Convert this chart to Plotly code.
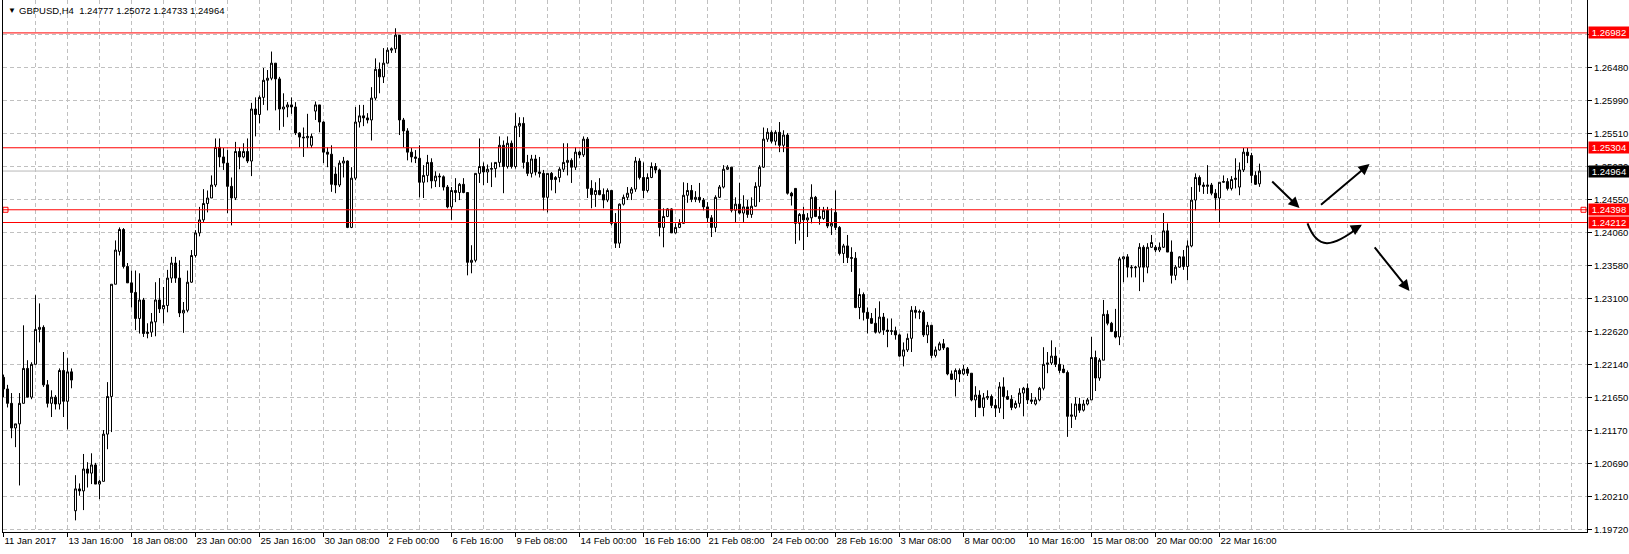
import plotly.graph_objects as go

# ---------------- data (GBPUSD H4, 11 Jan 2017 00:00 -> 24 Mar 2017 08:00) ----------------
open_ = [
    1.2195, 1.2178, 1.2157, 1.2121, 1.2127, 1.2157,   # 11 Jan
    1.2208, 1.2166, 1.2214, 1.2265, 1.2268, 1.2184,   # 12 Jan
    1.2157, 1.2166, 1.2156, 1.2205, 1.2160, 1.2203,   # 13 Jan
    1.2000, 1.2032, 1.2029, 1.2061, 1.2055, 1.2067,   # 16 Jan
    1.2039, 1.2043, 1.2112, 1.2167, 1.2331, 1.2379,   # 17 Jan
    1.2411, 1.2357, 1.2333, 1.2319, 1.2281, 1.2308,   # 18 Jan
    1.2259, 1.2261, 1.2276, 1.2308, 1.2295, 1.2300,   # 19 Jan
    1.2340, 1.2362, 1.2340, 1.2289, 1.2293, 1.2334,   # 20 Jan
    1.2373, 1.2406, 1.2425, 1.2449, 1.2457, 1.2476,   # 23 Jan
    1.2531, 1.2517, 1.2508, 1.2474, 1.2457, 1.2525,   # 24 Jan
    1.2517, 1.2525, 1.2511, 1.2587, 1.2579, 1.2604,   # 25 Jan
    1.2629, 1.2632, 1.2654, 1.2631, 1.2587, 1.2590,   # 26 Jan
    1.2593, 1.2590, 1.2552, 1.2546, 1.2545, 1.2534,   # 27 Jan
    1.2584, 1.2593, 1.2568, 1.2524, 1.2521, 1.2492,   # 30 Jan
    1.2476, 1.2508, 1.2511, 1.2414, 1.2486, 1.2568,   # 31 Jan
    1.2577, 1.2574, 1.2571, 1.2603, 1.2645, 1.2634,   # 1 Feb
    1.2654, 1.2673, 1.2675, 1.2695, 1.2571, 1.2555,   # 2 Feb
    1.2524, 1.2517, 1.2515, 1.2480, 1.2490, 1.2509,   # 3 Feb
    1.2482, 1.2489, 1.2488, 1.2473, 1.2444, 1.2468,   # 6 Feb
    1.2465, 1.2477, 1.2465, 1.2363, 1.2366, 1.2493,   # 7 Feb
    1.2503, 1.2495, 1.2499, 1.2500, 1.2509, 1.2534,   # 8 Feb
    1.2503, 1.2537, 1.2503, 1.2562, 1.2566, 1.2509,   # 9 Feb
    1.2493, 1.2514, 1.2495, 1.2493, 1.2458, 1.2493,   # 10 Feb
    1.2484, 1.2487, 1.2499, 1.2509, 1.2512, 1.2502,   # 13 Feb
    1.2524, 1.2520, 1.2543, 1.2471, 1.2462, 1.2468,   # 14 Feb
    1.2462, 1.2454, 1.2468, 1.2420, 1.2391, 1.2448,   # 15 Feb
    1.2458, 1.2464, 1.2470, 1.2511, 1.2487, 1.2468,   # 16 Feb
    1.2487, 1.2503, 1.2498, 1.2414, 1.2430, 1.2441,   # 17 Feb
    1.2406, 1.2414, 1.2420, 1.2461, 1.2468, 1.2455,   # 20 Feb
    1.2458, 1.2454, 1.2444, 1.2428, 1.2414, 1.2458,   # 21 Feb
    1.2473, 1.2499, 1.2502, 1.2439, 1.2448, 1.2435,   # 22 Feb
    1.2444, 1.2433, 1.2445, 1.2474, 1.2502, 1.2543,   # 23 Feb
    1.2553, 1.2540, 1.2553, 1.2534, 1.2549, 1.2464,   # 24 Feb
    1.2471, 1.2420, 1.2433, 1.2425, 1.2428, 1.2458,   # 27 Feb
    1.2430, 1.2427, 1.2439, 1.2416, 1.2436, 1.2414,   # 28 Feb
    1.2376, 1.2387, 1.2370, 1.2369, 1.2297, 1.2316,   # 1 Mar
    1.2290, 1.2281, 1.2274, 1.2261, 1.2283, 1.2264,   # 2 Mar
    1.2262, 1.2263, 1.2257, 1.2226, 1.2235, 1.2252,   # 3 Mar
    1.2293, 1.2290, 1.2290, 1.2257, 1.2271, 1.2227,   # 6 Mar
    1.2235, 1.2244, 1.2238, 1.2200, 1.2192, 1.2205,   # 7 Mar
    1.2200, 1.2207, 1.2201, 1.2162, 1.2169, 1.2151,   # 8 Mar
    1.2165, 1.2167, 1.2154, 1.2150, 1.2181, 1.2167,   # 9 Mar
    1.2163, 1.2151, 1.2157, 1.2172, 1.2179, 1.2162,   # 10 Mar
    1.2156, 1.2162, 1.2179, 1.2214, 1.2216, 1.2226,   # 13 Mar
    1.2214, 1.2207, 1.2202, 1.2138, 1.2138, 1.2156,   # 14 Mar
    1.2147, 1.2156, 1.2162, 1.2224, 1.2194, 1.2220,   # 15 Mar
    1.2287, 1.2274, 1.2262, 1.2254, 1.2368, 1.2371,   # 16 Mar
    1.2356, 1.2355, 1.2356, 1.2385, 1.2356, 1.2385,   # 17 Mar
    1.2385, 1.2381, 1.2385, 1.2409, 1.2378, 1.2344,   # 20 Mar
    1.2356, 1.2371, 1.2357, 1.2387, 1.2454, 1.2487,   # 21 Mar
    1.2476, 1.2474, 1.2476, 1.2464, 1.2457, 1.2480,   # 22 Mar
    1.2481, 1.2471, 1.2484, 1.2473, 1.2498, 1.2524,   # 23 Mar
    1.2519, 1.2490, 1.24777,                          # 24 Mar
]

high = [
    1.2199, 1.2184, 1.2172, 1.2127, 1.2172, 1.2271,
    1.2220, 1.2217, 1.2315, 1.2303, 1.2271, 1.2191,
    1.2176, 1.2169, 1.2208, 1.2232, 1.2223, 1.2208,
    1.2052, 1.2040, 1.2083, 1.2071, 1.2084, 1.2070,
    1.2045, 1.2118, 1.2188, 1.2331, 1.2395, 1.2414,
    1.2413, 1.2362, 1.2351, 1.2351, 1.2347, 1.2311,
    1.2274, 1.2289, 1.2334, 1.2340, 1.2327, 1.2352,
    1.2371, 1.2371, 1.2366, 1.2305, 1.2351, 1.2381,
    1.2410, 1.2444, 1.2470, 1.2468, 1.2490, 1.2544,
    1.2544, 1.2530, 1.2527, 1.2487, 1.2539, 1.2531,
    1.2537, 1.2544, 1.2596, 1.2604, 1.2607, 1.2647,
    1.2644, 1.2671, 1.2654, 1.2634, 1.2610, 1.2597,
    1.2604, 1.2597, 1.2553, 1.2560, 1.2580, 1.2551,
    1.2598, 1.2593, 1.2569, 1.2531, 1.2534, 1.2502,
    1.2512, 1.2517, 1.2512, 1.2502, 1.2590, 1.2593,
    1.2593, 1.2581, 1.2619, 1.2661, 1.2655, 1.2676,
    1.2677, 1.2677, 1.2705, 1.2695, 1.2574, 1.2559,
    1.2530, 1.2527, 1.2534, 1.2505, 1.2520, 1.2515,
    1.2496, 1.2493, 1.2490, 1.2476, 1.2473, 1.2486,
    1.2479, 1.2486, 1.2465, 1.2388, 1.2493, 1.2544,
    1.2509, 1.2506, 1.2509, 1.2509, 1.2547, 1.2541,
    1.2547, 1.2541, 1.2581, 1.2575, 1.2575, 1.2520,
    1.2520, 1.2520, 1.2517, 1.2498, 1.2493, 1.2495,
    1.2489, 1.2502, 1.2537, 1.2537, 1.2515, 1.2531,
    1.2526, 1.2547, 1.2546, 1.2483, 1.2480, 1.2486,
    1.2471, 1.2471, 1.2468, 1.2435, 1.2449, 1.2462,
    1.2473, 1.2473, 1.2517, 1.2515, 1.2509, 1.2493,
    1.2509, 1.2508, 1.2500, 1.2442, 1.2442, 1.2442,
    1.2420, 1.2426, 1.2480, 1.2479, 1.2476, 1.2467,
    1.2479, 1.2457, 1.2451, 1.2432, 1.2461, 1.2476,
    1.2505, 1.2505, 1.2502, 1.2458, 1.2479, 1.2461,
    1.2454, 1.2458, 1.2480, 1.2505, 1.2560, 1.2559,
    1.2556, 1.2556, 1.2568, 1.2556, 1.2552, 1.2466,
    1.2471, 1.2435, 1.2444, 1.2435, 1.2477, 1.2460,
    1.2444, 1.2444, 1.2444, 1.2442, 1.2468, 1.2416,
    1.2390, 1.2403, 1.2385, 1.2378, 1.2325, 1.2319,
    1.2297, 1.2289, 1.2296, 1.2306, 1.2289, 1.2281,
    1.2281, 1.2269, 1.2259, 1.2246, 1.2259, 1.2299,
    1.2299, 1.2294, 1.2293, 1.2276, 1.2271, 1.2240,
    1.2247, 1.2251, 1.2239, 1.2205, 1.2208, 1.2208,
    1.2213, 1.2210, 1.2201, 1.2182, 1.2176, 1.2172,
    1.2176, 1.2170, 1.2163, 1.2188, 1.2195, 1.2176,
    1.2169, 1.2161, 1.2179, 1.2181, 1.2186, 1.2172,
    1.2166, 1.2181, 1.2239, 1.2232, 1.2249, 1.2239,
    1.2223, 1.2213, 1.2205, 1.2157, 1.2166, 1.2165,
    1.2162, 1.2165, 1.2254, 1.2234, 1.2223, 1.2308,
    1.2293, 1.2276, 1.2295, 1.2371, 1.2372, 1.2375,
    1.2359, 1.2358, 1.2391, 1.2388, 1.2391, 1.2403,
    1.2388, 1.2392, 1.2435, 1.2420, 1.2395, 1.2359,
    1.2372, 1.2381, 1.2395, 1.2473, 1.2493, 1.2490,
    1.2480, 1.2505, 1.2479, 1.2470, 1.2480, 1.2490,
    1.2486, 1.2489, 1.2515, 1.2509, 1.2530, 1.2530,
    1.2523, 1.2496, 1.25072,
]

low = [
    1.2166, 1.2151, 1.2106, 1.2093, 1.2037, 1.2157,
    1.2166, 1.2163, 1.2214, 1.2246, 1.2181, 1.2151,
    1.2137, 1.2148, 1.2148, 1.2137, 1.2119, 1.2179,
    1.1986, 1.2022, 1.2001, 1.2034, 1.2039, 1.2039,
    1.2017, 1.2043, 1.2090, 1.2115, 1.2331, 1.2373,
    1.2354, 1.2333, 1.2297, 1.2264, 1.2259, 1.2254,
    1.2252, 1.2254, 1.2255, 1.2289, 1.2274, 1.2290,
    1.2333, 1.2333, 1.2283, 1.2260, 1.2290, 1.2333,
    1.2370, 1.2401, 1.2422, 1.2436, 1.2457, 1.2473,
    1.2502, 1.2498, 1.2435, 1.2417, 1.2454, 1.2499,
    1.2515, 1.2508, 1.2489, 1.2547, 1.2566, 1.2593,
    1.2585, 1.2629, 1.2585, 1.2556, 1.2561, 1.2575,
    1.2580, 1.2549, 1.2531, 1.2517, 1.2530, 1.2530,
    1.2571, 1.2553, 1.2508, 1.2502, 1.2466, 1.2464,
    1.2473, 1.2487, 1.2413, 1.2413, 1.2483, 1.2560,
    1.2562, 1.2566, 1.2541, 1.2600, 1.2610, 1.2625,
    1.2654, 1.2669, 1.2669, 1.2549, 1.2531, 1.2512,
    1.2509, 1.2508, 1.2458, 1.2457, 1.2480, 1.2471,
    1.2473, 1.2473, 1.2468, 1.2442, 1.2425, 1.2451,
    1.2454, 1.2464, 1.2344, 1.2347, 1.2363, 1.2479,
    1.2476, 1.2479, 1.2473, 1.2487, 1.2502, 1.2464,
    1.2500, 1.2500, 1.2500, 1.2546, 1.2500, 1.2489,
    1.2487, 1.2490, 1.2487, 1.2439, 1.2436, 1.2468,
    1.2464, 1.2480, 1.2495, 1.2490, 1.2479, 1.2498,
    1.2515, 1.2517, 1.2457, 1.2442, 1.2444, 1.2461,
    1.2442, 1.2451, 1.2417, 1.2384, 1.2384, 1.2446,
    1.2454, 1.2454, 1.2466, 1.2484, 1.2457, 1.2465,
    1.2486, 1.2493, 1.2401, 1.2385, 1.2429, 1.2406,
    1.2405, 1.2413, 1.2420, 1.2450, 1.2451, 1.2451,
    1.2450, 1.2439, 1.2422, 1.2400, 1.2407, 1.2457,
    1.2471, 1.2498, 1.2436, 1.2422, 1.2433, 1.2422,
    1.2428, 1.2428, 1.2444, 1.2451, 1.2501, 1.2539,
    1.2537, 1.2534, 1.2524, 1.2524, 1.2462, 1.2446,
    1.2390, 1.2395, 1.2381, 1.2400, 1.2420, 1.2429,
    1.2418, 1.2425, 1.2413, 1.2403, 1.2410, 1.2373,
    1.2362, 1.2362, 1.2349, 1.2296, 1.2280, 1.2278,
    1.2259, 1.2273, 1.2259, 1.2259, 1.2257, 1.2239,
    1.2257, 1.2250, 1.2225, 1.2211, 1.2232, 1.2232,
    1.2281, 1.2280, 1.2254, 1.2245, 1.2223, 1.2224,
    1.2234, 1.2235, 1.2198, 1.2191, 1.2167, 1.2188,
    1.2198, 1.2197, 1.2160, 1.2137, 1.2150, 1.2138,
    1.2162, 1.2150, 1.2137, 1.2143, 1.2134, 1.2162,
    1.2147, 1.2149, 1.2151, 1.2138, 1.2156, 1.2156,
    1.2154, 1.2160, 1.2176, 1.2201, 1.2213, 1.2210,
    1.2201, 1.2201, 1.2108, 1.2121, 1.2133, 1.2143,
    1.2145, 1.2154, 1.2162, 1.2175, 1.2190, 1.2220,
    1.2271, 1.2261, 1.2252, 1.2242, 1.2334, 1.2341,
    1.2341, 1.2341, 1.2321, 1.2334, 1.2347, 1.2384,
    1.2378, 1.2378, 1.2384, 1.2378, 1.2332, 1.2337,
    1.2355, 1.2352, 1.2337, 1.2385, 1.2439, 1.2466,
    1.2463, 1.2463, 1.2461, 1.2439, 1.2422, 1.2479,
    1.2468, 1.2468, 1.2471, 1.2461, 1.2495, 1.2508,
    1.2479, 1.2476, 1.24733,
]

close = [
    1.2178, 1.2157, 1.2121, 1.2127, 1.2157, 1.2208,
    1.2166, 1.2214, 1.2265, 1.2268, 1.2184, 1.2157,
    1.2166, 1.2156, 1.2205, 1.2160, 1.2203, 1.2191,
    1.2032, 1.2029, 1.2061, 1.2055, 1.2067, 1.2039,
    1.2043, 1.2112, 1.2167, 1.2331, 1.2381, 1.2411,
    1.2357, 1.2333, 1.2319, 1.2281, 1.2308, 1.2259,
    1.2261, 1.2276, 1.2308, 1.2295, 1.2300, 1.2340,
    1.2362, 1.2340, 1.2289, 1.2293, 1.2334, 1.2373,
    1.2406, 1.2425, 1.2449, 1.2457, 1.2476, 1.2531,
    1.2517, 1.2508, 1.2474, 1.2457, 1.2525, 1.2517,
    1.2525, 1.2511, 1.2587, 1.2579, 1.2604, 1.2629,
    1.2632, 1.2654, 1.2631, 1.2587, 1.2590, 1.2593,
    1.2590, 1.2552, 1.2546, 1.2545, 1.2547, 1.2547,
    1.2593, 1.2568, 1.2524, 1.2521, 1.2477, 1.2476,
    1.2508, 1.2511, 1.2414, 1.2486, 1.2568, 1.2577,
    1.2574, 1.2571, 1.2603, 1.2645, 1.2634, 1.2654,
    1.2673, 1.2675, 1.2695, 1.2571, 1.2555, 1.2524,
    1.2517, 1.2515, 1.2480, 1.2490, 1.2509, 1.2482,
    1.2489, 1.2488, 1.2473, 1.2444, 1.2468, 1.2465,
    1.2477, 1.2465, 1.2363, 1.2366, 1.2493, 1.2503,
    1.2495, 1.2499, 1.2500, 1.2509, 1.2534, 1.2503,
    1.2537, 1.2503, 1.2562, 1.2566, 1.2509, 1.2493,
    1.2514, 1.2495, 1.2493, 1.2458, 1.2493, 1.2484,
    1.2487, 1.2499, 1.2509, 1.2512, 1.2502, 1.2524,
    1.2520, 1.2543, 1.2471, 1.2462, 1.2468, 1.2462,
    1.2454, 1.2468, 1.2420, 1.2391, 1.2448, 1.2458,
    1.2464, 1.2470, 1.2511, 1.2487, 1.2468, 1.2487,
    1.2503, 1.2498, 1.2414, 1.2430, 1.2441, 1.2406,
    1.2414, 1.2420, 1.2461, 1.2468, 1.2455, 1.2458,
    1.2454, 1.2444, 1.2428, 1.2414, 1.2458, 1.2473,
    1.2499, 1.2502, 1.2439, 1.2448, 1.2435, 1.2444,
    1.2433, 1.2445, 1.2474, 1.2502, 1.2543, 1.2553,
    1.2540, 1.2553, 1.2534, 1.2549, 1.2464, 1.2460,
    1.2420, 1.2433, 1.2425, 1.2428, 1.2458, 1.2430,
    1.2427, 1.2439, 1.2416, 1.2420, 1.2414, 1.2376,
    1.2387, 1.2370, 1.2369, 1.2297, 1.2316, 1.2290,
    1.2281, 1.2274, 1.2261, 1.2283, 1.2264, 1.2262,
    1.2263, 1.2257, 1.2226, 1.2235, 1.2252, 1.2293,
    1.2290, 1.2291, 1.2257, 1.2271, 1.2227, 1.2235,
    1.2244, 1.2238, 1.2200, 1.2192, 1.2205, 1.2200,
    1.2207, 1.2201, 1.2162, 1.2169, 1.2151, 1.2165,
    1.2167, 1.2154, 1.2150, 1.2181, 1.2167, 1.2163,
    1.2151, 1.2157, 1.2172, 1.2179, 1.2162, 1.2160,
    1.2162, 1.2179, 1.2214, 1.2216, 1.2226, 1.2214,
    1.2205, 1.2202, 1.2138, 1.2140, 1.2156, 1.2147,
    1.2156, 1.2162, 1.2224, 1.2194, 1.2220, 1.2287,
    1.2274, 1.2262, 1.2254, 1.2368, 1.2371, 1.2356,
    1.2355, 1.2356, 1.2385, 1.2356, 1.2385, 1.2392,
    1.2381, 1.2385, 1.2409, 1.2378, 1.2344, 1.2356,
    1.2371, 1.2357, 1.2387, 1.2454, 1.2487, 1.2476,
    1.2474, 1.2476, 1.2464, 1.2457, 1.2480, 1.2481,
    1.2471, 1.2484, 1.2486, 1.2498, 1.2524, 1.2519,
    1.2490, 1.2477, 1.24964,
]

bars = list(range(len(close)))

# time axis labels (every 16 H4 bars)
x_tick_bars = [0, 16, 32, 48, 64, 80, 96, 112, 128, 144, 160, 176, 192, 208,
               224, 240, 256, 272, 288, 304]
x_tick_text = ["11 Jan 2017", "13 Jan 16:00", "18 Jan 08:00", "23 Jan 00:00",
               "25 Jan 16:00", "30 Jan 08:00", "2 Feb 00:00", "6 Feb 16:00",
               "9 Feb 08:00", "14 Feb 00:00", "16 Feb 16:00", "21 Feb 08:00",
               "24 Feb 00:00", "28 Feb 16:00", "3 Mar 08:00", "8 Mar 00:00",
               "10 Mar 16:00", "15 Mar 08:00", "20 Mar 00:00", "22 Mar 16:00"]

# price axis labels
y_tick_vals = [1.19720, 1.20210, 1.20690, 1.21170, 1.21650, 1.22140, 1.22620,
               1.23100, 1.23580, 1.24060, 1.24550, 1.25030, 1.25510, 1.25990,
               1.26480, 1.26960]
y_tick_text = [f"{v:.5f}" for v in y_tick_vals]

level_lines = [1.26982, 1.25304, 1.24398, 1.24212]
selected_level = 1.24398
bid_price = 1.24964
title_text = "GBPUSD,H4  1.24777 1.25072 1.24733 1.24964"

# hand-drawn forecast arrows: (tail bar, tail price, head bar, head price)
arrows = [
    (316.8, 1.24833, 324.0, 1.24424),
    (329.0, 1.24453, 341.5, 1.25067),
    (342.5, 1.23869, 351.5, 1.23212),
]
curve_path = "M 326,1.24200 C 328.5,1.23810 332,1.23830 339.2,1.24160"
curve_head = (336.8, 1.24085, 339.6, 1.24178)

X_RANGE = [-0.125, 395.875]
Y_RANGE = [1.19690, 1.27463]

GRID = "#c0c0c0"
DASH = "4px,3px"
FONT = "Liberation Sans, Arial, sans-serif"
FS = 9.5

fig = go.Figure()

fig.add_trace(go.Candlestick(
    x=bars, open=open_, high=high, low=low, close=close,
    increasing=dict(line=dict(color="black", width=1), fillcolor="white"),
    decreasing=dict(line=dict(color="black", width=1), fillcolor="black"),
    whiskerwidth=0, showlegend=False, hoverinfo="skip",
))

# selected-object handles on the 1.24398 line
fig.add_trace(go.Scatter(
    x=[0.5, 395.0], y=[selected_level, selected_level], mode="markers",
    marker=dict(symbol="square-open", size=5, color="red", line=dict(width=1, color="red")),
    showlegend=False, hoverinfo="skip", cliponaxis=False,
))

shapes = []
shapes.append(dict(type="line", xref="paper", x0=0, x1=1, yref="y", y0=bid_price, y1=bid_price,
                   line=dict(color="#b8b8b8", width=1), layer="below"))
for lv in level_lines:
    shapes.append(dict(type="line", xref="paper", x0=0, x1=1, yref="y", y0=lv, y1=lv,
                       line=dict(color="#ff0000", width=1)))
shapes.append(dict(type="path", xref="x", yref="y", path=curve_path,
                   line=dict(color="black", width=2)))

annotations = []
# title
annotations.append(dict(xref="paper", yref="paper", x=0, y=1, xanchor="left", yanchor="top",
                        xshift=3, yshift=-4, text="▼", showarrow=False,
                        font=dict(family=FONT, size=8, color="black")))
annotations.append(dict(xref="paper", yref="paper", x=0, y=1, xanchor="left", yanchor="top",
                        xshift=14, yshift=-3, text=title_text, showarrow=False,
                        font=dict(family=FONT, size=FS, color="black")))
# price labels on the right axis
for lv in level_lines:
    annotations.append(dict(xref="paper", yref="y", x=1, y=lv, xanchor="left", yanchor="middle",
                            xshift=1, text=f"{lv:.5f}", showarrow=False, bgcolor="#ff0000",
                            width=40, height=11, borderpad=0,
                            font=dict(family=FONT, size=FS, color="white")))
annotations.append(dict(xref="paper", yref="y", x=1, y=bid_price, xanchor="left", yanchor="middle",
                        xshift=1, text=f"{bid_price:.5f}", showarrow=False, bgcolor="black",
                        width=40, height=11, borderpad=0,
                        font=dict(family=FONT, size=FS, color="white")))
# arrows
for tx, ty, hx, hy in arrows + [curve_head]:
    annotations.append(dict(x=hx, y=hy, ax=tx, ay=ty, xref="x", yref="y", axref="x", ayref="y",
                            showarrow=True, arrowhead=2, arrowsize=1.1, arrowwidth=2,
                            arrowcolor="black", text="", standoff=0, startstandoff=0))

fig.update_layout(
    width=1629, height=554,
    margin=dict(l=3, r=42, t=0, b=22, pad=0, autoexpand=False),
    paper_bgcolor="white", plot_bgcolor="white",
    boxgap=0.5, boxgroupgap=0,
    showlegend=False,
    font=dict(family=FONT, size=FS, color="black"),
    shapes=shapes, annotations=annotations,
    xaxis=dict(
        range=X_RANGE, tickmode="array", tickvals=x_tick_bars, ticktext=x_tick_text,
        tickangle=0, automargin=False,
        ticks="outside", ticklen=4, tickwidth=1, tickcolor="black",
        ticklabelposition="outside right",
        showgrid=True, gridcolor=GRID, griddash=DASH, gridwidth=1,
        minor=dict(tickmode="linear", tick0=0, dtick=8, showgrid=True, gridcolor=GRID,
                   griddash=DASH, gridwidth=1, ticks=""),
        showline=True, linecolor="black", linewidth=1, zeroline=False,
        rangeslider=dict(visible=False), fixedrange=True,
        tickfont=dict(family=FONT, size=FS, color="black"),
    ),
    yaxis=dict(
        range=Y_RANGE, side="right", tickmode="array", tickvals=y_tick_vals, ticktext=y_tick_text,
        automargin=False,
        ticks="outside", ticklen=4, tickwidth=1, tickcolor="black",
        showgrid=True, gridcolor=GRID, griddash=DASH, gridwidth=1,
        showline=True, mirror=True, linecolor="black", linewidth=1, zeroline=False,
        fixedrange=True,
        tickfont=dict(family=FONT, size=FS, color="black"),
    ),
)

fig.write_html("out.html", config={"displayModeBar": False},
               post_script="document.body.style.margin='0';")
